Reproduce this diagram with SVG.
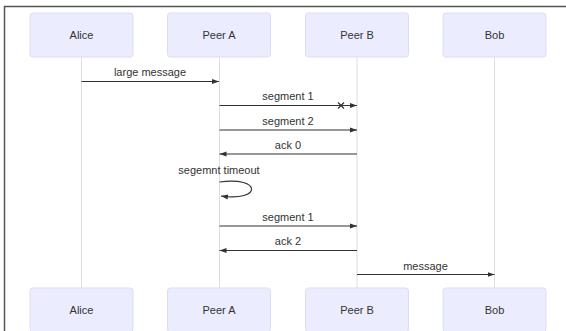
<svg xmlns="http://www.w3.org/2000/svg" width="566" height="331" viewBox="0 0 566 331">
<style>
.actor{fill:#ECECFF;stroke:#dcdcf5;stroke-width:1}
.atext{font-family:"Liberation Sans",Arial,sans-serif;font-size:11px;fill:#333;text-anchor:middle;dominant-baseline:central}
.life{stroke:#dedede;stroke-width:1}
.msg{stroke:#333;stroke-width:1.2;fill:none}
.mtext{font-family:"Liberation Sans",Arial,sans-serif;font-size:11px;fill:#333;text-anchor:middle}
</style>
<defs>
<marker id="ah" markerWidth="8" markerHeight="6" refX="7" refY="3" orient="auto" markerUnits="userSpaceOnUse">
<path d="M0,0.5 L7,3 L0,5.5 Z" fill="#333"/>
</marker>
</defs>
<rect x="0" y="0" width="566" height="331" fill="#ffffff"/>
<path d="M4.5,331 V6.5 H566" fill="none" stroke="#555" stroke-width="1.5"/>
<g id="lifelines">
<line class="life" x1="81.5" y1="57" x2="81.5" y2="288"/>
<line class="life" x1="219.5" y1="57" x2="219.5" y2="288"/>
<line class="life" x1="357" y1="57" x2="357" y2="288"/>
<line class="life" x1="494.5" y1="57" x2="494.5" y2="288"/>
</g>
<g id="alice"><rect class="actor" x="30" y="13" width="103" height="44" rx="3"/><text class="atext" x="81.5" y="35">Alice</text></g>
<g id="peerA"><rect class="actor" x="167.5" y="13" width="103" height="44" rx="3"/><text class="atext" x="219" y="35">Peer A</text></g>
<g id="peerB"><rect class="actor" x="305.5" y="13" width="103" height="44" rx="3"/><text class="atext" x="357" y="35">Peer B</text></g>
<g id="bob"><rect class="actor" x="443" y="13" width="103" height="44" rx="3"/><text class="atext" x="494.5" y="35">Bob</text></g>
<g id="alice-bottom"><rect class="actor" x="30" y="288" width="103" height="44" rx="3"/><text class="atext" x="81.5" y="310">Alice</text></g>
<g id="peerA-bottom"><rect class="actor" x="167.5" y="288" width="103" height="44" rx="3"/><text class="atext" x="219" y="310">Peer A</text></g>
<g id="peerB-bottom"><rect class="actor" x="305.5" y="288" width="103" height="44" rx="3"/><text class="atext" x="357" y="310">Peer B</text></g>
<g id="bob-bottom"><rect class="actor" x="443" y="288" width="103" height="44" rx="3"/><text class="atext" x="494.5" y="310">Bob</text></g>
<g id="connectors">
<line class="msg" x1="81.5" y1="81.5" x2="219" y2="81.5" marker-end="url(#ah)"/>
<text class="mtext" x="150" y="76">large message</text>
<line class="msg" x1="219.5" y1="105.5" x2="357" y2="105.5" marker-end="url(#ah)"/>
<path d="M338,102.5 L344,108.5 M344,102.5 L338,108.5" stroke="#333" stroke-width="1.2"/>
<text class="mtext" x="288" y="100">segment 1</text>
<line class="msg" x1="219.5" y1="130" x2="357" y2="130" marker-end="url(#ah)"/>
<text class="mtext" x="288" y="125">segment 2</text>
<line class="msg" x1="357" y1="154" x2="219.5" y2="154" marker-end="url(#ah)"/>
<text class="mtext" x="288" y="149">ack 0</text>
<text class="mtext" x="219" y="174">segemnt timeout</text>
<path class="msg" d="M219.5,182 C262,176 262,202 221,196" marker-end="url(#ah)"/>
<line class="msg" x1="219.5" y1="226" x2="357" y2="226" marker-end="url(#ah)"/>
<text class="mtext" x="288" y="221">segment 1</text>
<line class="msg" x1="357" y1="250.5" x2="219.5" y2="250.5" marker-end="url(#ah)"/>
<text class="mtext" x="288" y="245">ack 2</text>
<line class="msg" x1="357" y1="274.5" x2="494.5" y2="274.5" marker-end="url(#ah)"/>
<text class="mtext" x="425.5" y="269.5">message</text>
</g>
</svg>
